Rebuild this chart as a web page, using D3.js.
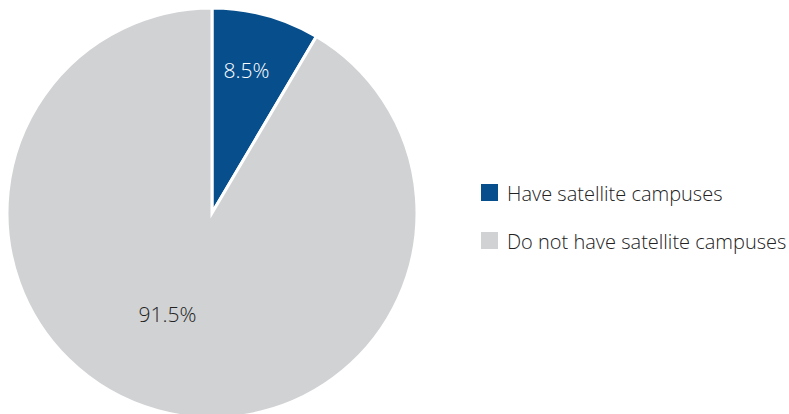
<!DOCTYPE html>
<html><head><meta charset="utf-8">
<script src="https://cdn.jsdelivr.net/npm/d3@7/dist/d3.min.js"></script>
<style>body{margin:0;background:#fff}svg{display:block}</style>
</head><body>
<svg id="c" width="789" height="414"></svg>
<script>
const categories = ["Have satellite campuses", "Do not have satellite campuses"];
const values = [8.5, 91.5];
const labels = ["8.5%", "91.5%"];
const colors = ["#064e8c", "#d1d2d4"];
const labelColors = ["#ffffff", "#222222"];

const svg = d3.select("#c");
const cx = 212, cy = 213, r = 205;
const g = svg.append("g").attr("transform", `translate(${cx},${cy})`);
const pie = d3.pie().sort(null).value(d => d)(values);
const arc = d3.arc().innerRadius(0).outerRadius(r);
g.selectAll("path").data(pie).join("path")
  .attr("d", arc).attr("fill", (d,i) => colors[i])
  .attr("stroke", "#fff").attr("stroke-width", 3).attr("stroke-linejoin","miter");

const labPos = [{rr:147, da:-0.03}, {rr:110, da:0.15}];
g.selectAll("text.lab").data(pie).join("text").attr("class","lab")
  .each(function(d,i){
    const a = (d.startAngle + d.endAngle)/2 + labPos[i].da;
    d3.select(this).attr("x", labPos[i].rr*Math.sin(a)).attr("y", -labPos[i].rr*Math.cos(a));
  })
  .attr("text-anchor","middle").attr("dominant-baseline","central")
  .attr("font-family","'Open Sans', sans-serif").attr("font-weight",300).attr("font-size",21)
  .attr("fill",(d,i)=>labelColors[i]).text((d,i)=>labels[i]);

const leg = svg.append("g").attr("transform","translate(481,184)");
const item = leg.selectAll("g").data(categories).join("g")
  .attr("transform",(d,i)=>`translate(0,${i*48})`);
item.append("rect").attr("width",17).attr("height",17).attr("fill",(d,i)=>colors[i]);
item.append("text").attr("x",26).attr("y",9).attr("dominant-baseline","central")
  .attr("font-family","'Open Sans', sans-serif").attr("font-weight",300).attr("font-size",20)
  .attr("fill","#222").text(d=>d);
</script>
</body></html>
